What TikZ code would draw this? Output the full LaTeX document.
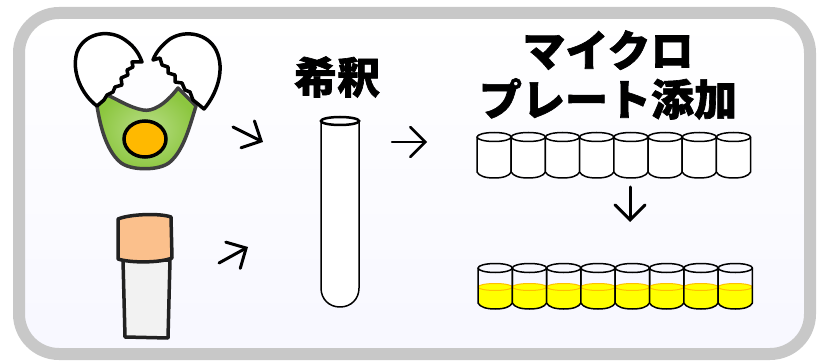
\documentclass[tikz,border=0pt]{standalone}
\usepackage{fontspec}
\newfontfamily\jp{Noto Sans CJK JP}[BoldFeatures={FakeBold=1.5}]
\usetikzlibrary{arrows.meta,shapes.geometric}
\definecolor{framegray}{HTML}{C8C8C8}
\definecolor{eggreen}{HTML}{8CC63F}
\definecolor{egglight}{HTML}{B8DE86}
\definecolor{yolk}{HTML}{FFB900}
\definecolor{capor}{HTML}{FBC08C}
\definecolor{vialgray}{HTML}{F2F2F2}
\definecolor{liquid}{HTML}{FFFF00}
\definecolor{meniscus}{HTML}{FFC000}
\tikzset{
  outline/.style={draw=black, line width=3.5pt, line join=round, line cap=round},
  stroke/.style={draw=black!87, line width=3.5pt, line join=round},
  glass/.style={draw=black, line width=1.5pt, line join=round},
  flow/.style={draw=black, line width=3pt, line cap=round,
    -{Straight Barb[length=15pt,width=30pt,line cap=round]}},
  title/.style={font=\jp\bfseries\fontsize{43}{49}\selectfont, align=center, inner sep=0pt},
}
\begin{document}
\begin{tikzpicture}[x=1pt,y=-1pt]
\useasboundingbox (0,0) rectangle (818,363);

% panel
\shade[top color=white, bottom color=blue!3!white, rounded corners=40pt]
  (19,13) rectangle (810,354);
\draw[framegray, line width=12pt, rounded corners=40pt] (19,13) rectangle (810,354);

% cracked egg: white inside the shell
\path[draw=black!75, line width=3.5pt, line join=round,
      inner color=egglight, outer color=eggreen]
  (97,106) .. controls (100,125) and (106,150) .. (120,162)
  .. controls (130,171) and (160,171) .. (170,162)
  .. controls (184,150) and (190,125) .. (196,106)
  -- (178,88) .. controls (165,105) and (152,112) .. (143,110)
  .. controls (130,108) and (115,98) .. (107,95) -- cycle;
\node[ellipse, minimum width=42pt, minimum height=36pt, fill=yolk,
      draw=black, line width=3.5pt] (yolk) at (145,139) {};
% left half of the shell
\path[outline, fill=white]
  (97,106) .. controls (82,95) and (71,72) .. (77,52)
  .. controls (84,34) and (106,29) .. (122,38)
  .. controls (132,44) and (138,51) .. (142,62)
  -- (132,62) -- (133,67) -- (127,70) -- (128,75) -- (121,78) -- (122,85)
  -- (115,87) -- (113,92) -- (107,95) -- (104,100) -- cycle;
% right half of the shell
\path[outline, fill=white]
  (204,109) .. controls (216,95) and (226,70) .. (216,50)
  .. controls (208,34) and (186,29) .. (170,39)
  .. controls (162,45) and (156,52) .. (153,60)
  -- (160,58) -- (162,65) -- (168,67) -- (168,73) -- (175,75) -- (175,82)
  -- (182,83) -- (185,90) -- (190,92) -- (193,100) -- (198,104) -- cycle;

% vial
\path[stroke, fill=vialgray] (123,260) -- (125,337) -- (168,338) -- (170,260) -- cycle;
\path[stroke, fill=capor]
  (118,219) .. controls (130,214) and (160,213) .. (171,217)
  -- (172,258) .. controls (160,263) and (130,263) .. (118,259) -- cycle;

% arrows into the dilution step
\coordinate (a1s) at (233,127); \coordinate (a1e) at (263,142);
\coordinate (a2s) at (219,263); \coordinate (a2e) at (248,247);
\draw[flow] (a1s) -- (a1e);
\draw[flow] (a2s) -- (a2e);

% dilution
\node[title] (dil) at (337,77) {希釈};
\path[glass, fill=white]
  (321,121) -- (321,288) .. controls (321,299) and (329,307) .. (340,307)
  .. controls (351,307) and (359,299) .. (359,288) -- (359,121);
\draw[black, line width=2.5pt] (340,121) ellipse [x radius=19, y radius=4];

\coordinate (a3s) at (392,142); \coordinate (a3e) at (427,142);
\draw[flow, line width=2.5pt] (a3s) -- (a3e);

% microplate
\node[title] (plate) at (608,75) {マイクロ\\プレート添加};

% empty row of wells
\foreach \i in {0,...,7} {
  \pgfmathsetmacro{\L}{477+34.2*\i}
  \pgfmathsetmacro{\R}{\L+34.2}
  \pgfmathsetmacro{\C}{\L+17.1}
  \path[glass, fill=white]
    (\L,137) -- (\L,172) .. controls (\L+2,176) and (\C-9,178) .. (\C,178)
    .. controls (\C+9,178) and (\R-2,176) .. (\R,172) -- (\R,137);
  \draw[glass] (\C,137) ellipse [x radius=17.1, y radius=4.5];
}

\coordinate (a4s) at (630,187); \coordinate (a4e) at (630,222);
\draw[flow] (a4s) -- (a4e);

% filled row of wells
\foreach \i in {0,...,7} {
  \pgfmathsetmacro{\L}{478+34.3*\i}
  \pgfmathsetmacro{\R}{\L+34.3}
  \pgfmathsetmacro{\C}{\L+17.15}
  \fill[liquid]
    (\L,287) -- (\L,303) .. controls (\L+2,307) and (\C-9,309) .. (\C,309)
    .. controls (\C+9,309) and (\R-2,307) .. (\R,303) -- (\R,287) -- cycle;
  \draw[meniscus, line width=1pt, fill=liquid] (\C,287) ellipse [x radius=17.15, y radius=3.5];
  \path[glass]
    (\L,268) -- (\L,303) .. controls (\L+2,307) and (\C-9,309) .. (\C,309)
    .. controls (\C+9,309) and (\R-2,307) .. (\R,303) -- (\R,268);
  \draw[glass] (\C,268) ellipse [x radius=17.15, y radius=4.5];
}
\end{tikzpicture}
\end{document}
